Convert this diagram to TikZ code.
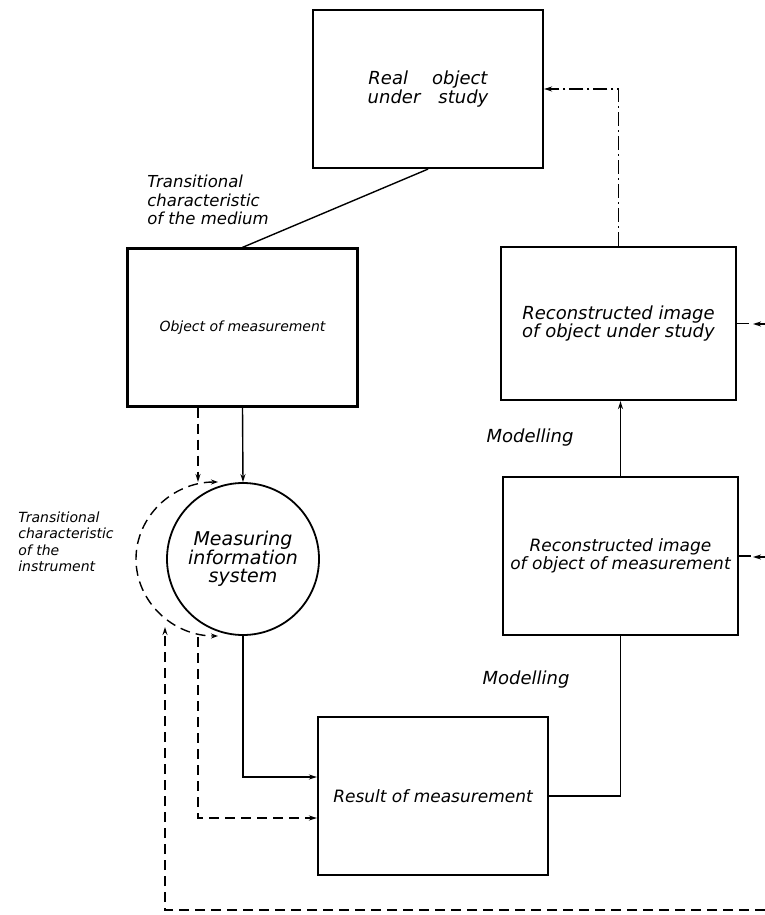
\documentclass[tikz,border=0pt]{standalone}
\usepackage{fontspec}
\setmainfont{DejaVu Sans}
\usetikzlibrary{arrows.meta}

\begin{document}
\begin{tikzpicture}[x=1pt, y=-1pt, line width=1.4pt,
	every node/.style={inner sep=2pt, font=\itshape\fontsize{18}{16}\selectfont},
	box/.style={draw, line width=2.2pt, minimum width=230pt, minimum height=158pt, align=center},
	arr/.style={-{Stealth[length=8pt,width=5pt]}},
	dsh/.style={dash pattern=on 10pt off 6pt}]
	\useasboundingbox (0,0) rectangle (765,915);
	
	\node [box](real) at (428,89) {Real\hspace{24pt}object\\under\hspace{18pt}study};
	\node [box](obj) at (242.5,327.5) {\fontsize{14}{14}\selectfont Object of measurement};
	\node [box, minimum width=235pt, minimum height=153pt](study) at (618.5,323.5) {Reconstructed image\\of object under study};
	\node [box, minimum width=235pt, font=\itshape\fontsize{17}{16}\selectfont](recm) at (620.5,556) {Reconstructed image\\of object of measurement};
	\node [box, font=\itshape\fontsize{17}{16}\selectfont](res) at (433,796) {Result of measurement};
	\node [draw, circle, line width=1.8pt, minimum size=152pt, align=center, font=\itshape\fontsize{19}{18}\selectfont](mis) at (243,559) {Measuring\\information\\system};
	
	\node [align=left, font=\itshape\fontsize{16.5}{18.5}\selectfont](medium) at (208,200) {Transitional\\characteristic\\of the medium};
	\node [align=left, font=\itshape\fontsize{14}{16.5}\selectfont](instr) at (66,542) {Transitional\\characteristic\\of the\\instrument};
	\node (mod1) at (530,438) {Modelling};
	\node (mod2) at (526,680) {Modelling};
	
	\coordinate (ctop) at (198,482);
	\coordinate (cbot) at (198,637);
	\coordinate (cleft) at (165,627);
	\coordinate (far) at (765,910);
	\coordinate (in1) at (765,324);
	\coordinate (in2) at (765,557);
	
	\draw (real.south)--(obj.north);
	\draw[arr] (obj.south)--(mis.north);
	\draw[arr, dsh] (obj.south -| ctop)--(ctop);
	\draw[dsh, {Stealth[length=7pt,width=5pt]}-{Stealth[length=7pt,width=5pt]}] (218,482) arc[start angle=90, end angle=270, x radius=82pt, y radius=77pt];
	\draw[arr] (mis.south) |- ([yshift=19pt]res.west);
	\draw[arr, dsh] (cbot) |- ([yshift=-22pt]res.west);
	\draw[arr, dsh] (far) -| (cleft);
	
	\draw (res.east) -| (recm.south);
	\draw[arr] (recm.north)--(recm.north |- study.south);
	\draw[arr, dash pattern=on 14pt off 4pt on 2pt off 4pt] (study.north) |- (real.east);
	
	\draw (study.east)--++(12,0);
	\draw[arr] (in1)--++(-12,0);
	\draw (recm.east)--++(12,0);
	\draw[arr] (in2)--++(-12,0);
\end{tikzpicture}
\end{document}
